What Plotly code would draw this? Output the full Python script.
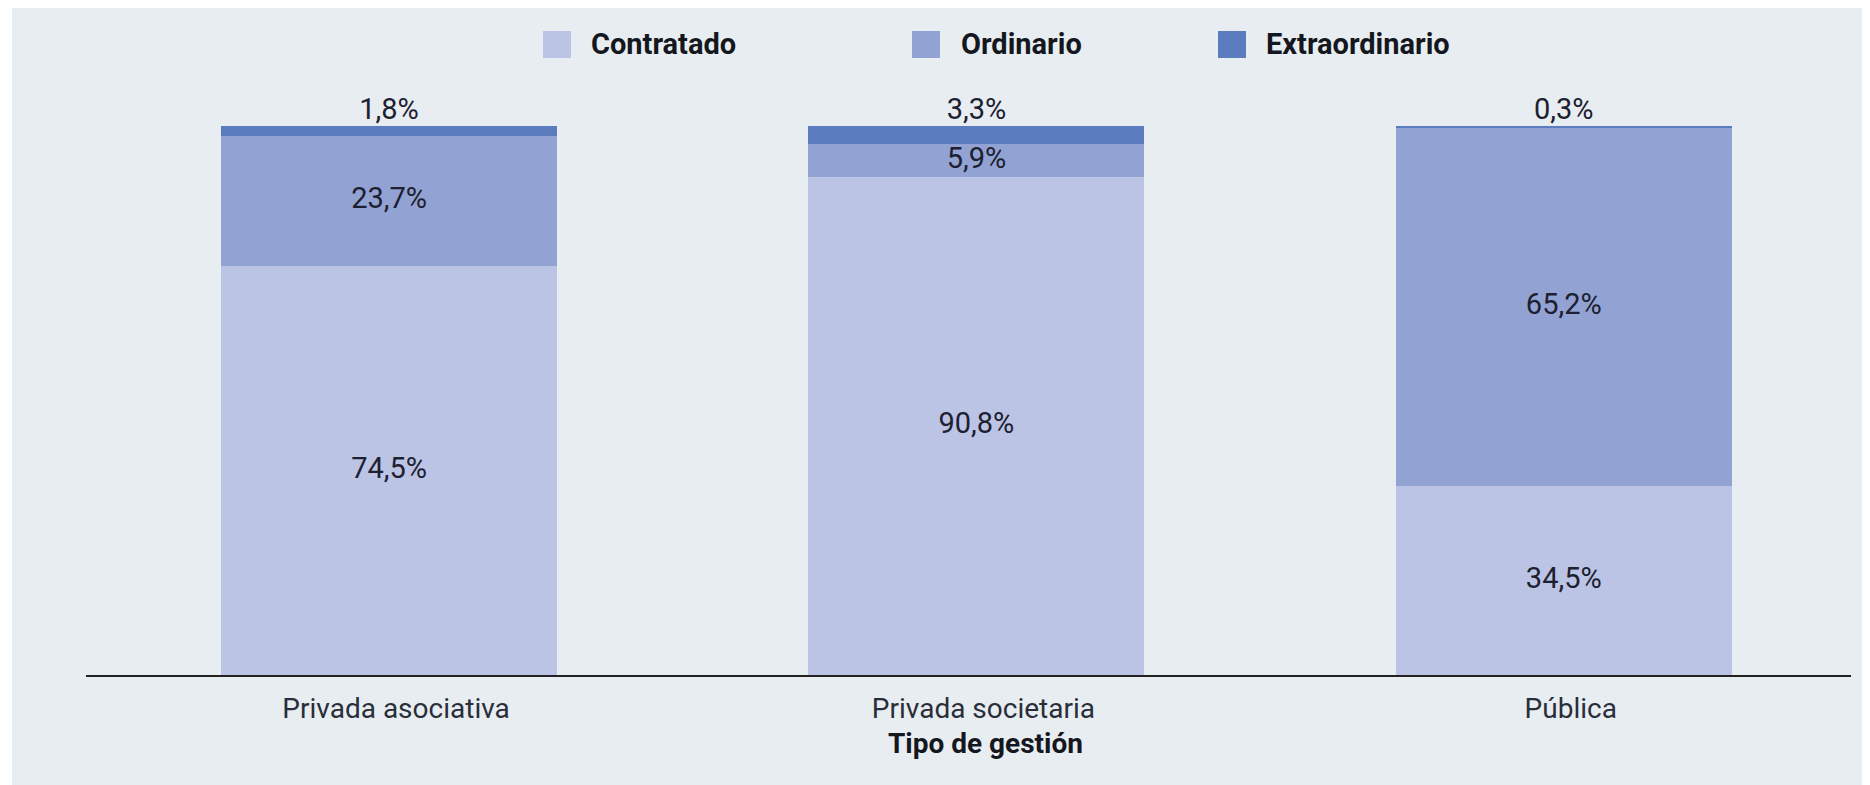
import plotly.graph_objects as go

categorias = ["Privada asociativa", "Privada societaria", "Pública"]
contratado = [74.5, 90.8, 34.5]
ordinario = [23.7, 5.9, 65.2]
extraordinario = [1.8, 3.3, 0.3]

series = ["Contratado", "Ordinario", "Extraordinario"]
colores = {"Contratado": "#bbc4e4", "Ordinario": "#92a3d3", "Extraordinario": "#5b7dbf"}

W, H = 1870, 785
OFF = 8  # margen del body de la página
L, R, T, B = 86 - OFF, 19 + OFF, 100 - OFF, 110 + OFF
FONT = "Roboto, Arial, sans-serif"
TXT = "#1d2030"


def fmt(v):
    return f"{v:.1f}".replace(".", ",") + "%"


def px_x(p):
    return (p - OFF - L) / (W - L - R)


def px_y(p):
    return (H - B - (p - OFF)) / (H - T - B)


fig = go.Figure()
for nombre, vals in zip(series, [contratado, ordinario, extraordinario]):
    fig.add_trace(go.Bar(
        x=categorias, y=vals, name=nombre, width=0.572,
        marker=dict(color=colores[nombre], line=dict(width=0)),
        showlegend=False, hoverinfo="skip",
    ))

# etiquetas dentro de los segmentos
mid_c = [c / 2 for c in contratado]
mid_o = [c + o / 2 for c, o in zip(contratado, ordinario)]
tot = [c + o + e for c, o, e in zip(contratado, ordinario, extraordinario)]
fig.add_trace(go.Scatter(
    x=categorias + categorias, y=mid_c + mid_o, mode="text",
    text=[fmt(v) for v in contratado + ordinario], textposition="middle center",
    textfont=dict(family=FONT, size=29, color=TXT), showlegend=False, hoverinfo="skip",
))
fig.add_trace(go.Scatter(
    x=categorias, y=tot, mode="text",
    text=[fmt(v) for v in extraordinario], textposition="top center",
    textfont=dict(family=FONT, size=29, color=TXT), showlegend=False, hoverinfo="skip",
    cliponaxis=False,
))

shapes = [dict(type="rect", xref="paper", yref="paper", layer="below",
               x0=px_x(12), x1=px_x(W + 20), y0=px_y(H + 20), y1=px_y(6),
               fillcolor="#e8edf1", line=dict(width=0))]
annotations = []
legend_pos = [(543, 589), (912, 959), (1218, 1264)]
for nombre, (sx, tx) in zip(series, legend_pos):
    shapes.append(dict(type="rect", xref="paper", yref="paper",
                       x0=px_x(sx), x1=px_x(sx + 28), y0=px_y(58), y1=px_y(31),
                       fillcolor=colores[nombre], line=dict(width=0)))
    annotations.append(dict(xref="paper", yref="paper", x=px_x(tx), y=px_y(44),
                            xanchor="left", yanchor="middle", showarrow=False,
                            text=f"<b>{nombre}</b>",
                            font=dict(family=FONT, size=29, color="#15171f")))

# título del eje x
annotations.append(dict(xref="paper", yref="paper", x=px_x(985), y=px_y(743),
                        xanchor="center", yanchor="middle", showarrow=False,
                        text="<b>Tipo de gestión</b>",
                        font=dict(family=FONT, size=28, color="#15171f")))

fig.update_layout(
    width=W, height=H,
    margin=dict(l=L, r=R, t=T, b=B),
    barmode="stack",
    paper_bgcolor="white",
    plot_bgcolor="rgba(0,0,0,0)",
    shapes=shapes,
    annotations=annotations,
    xaxis=dict(
        range=[-0.516, 2.489], showline=True, linecolor="#222222", linewidth=2,
        showgrid=False, zeroline=False, ticks="outside", ticklen=7, tickcolor="rgba(0,0,0,0)",
        ticklabelshift=7,
        tickfont=dict(family=FONT, size=28, color="#2a2d3a"),
    ),
    yaxis=dict(range=[0, 104.74], visible=False, showgrid=False, zeroline=False),
)

fig.write_html("out.html")
